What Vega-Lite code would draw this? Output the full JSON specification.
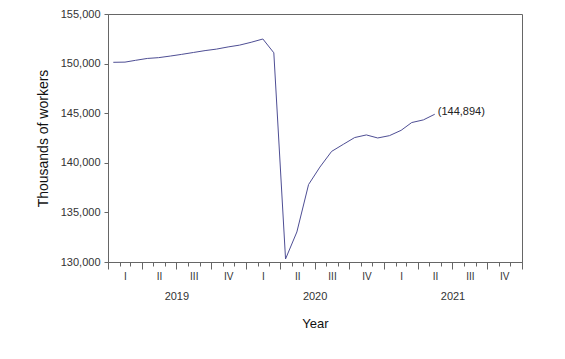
{
  "$schema": "https://vega.github.io/schema/vega-lite/v6.json",
  "width": 414,
  "height": 248,
  "autosize": "none",
  "padding": {"left": 108, "top": 14, "right": 43, "bottom": 97},
  "background": "white",
  "config": {
    "view": {"stroke": "#666666", "strokeWidth": 1},
    "axis": {
      "grid": false,
      "labelFont": "Liberation Sans",
      "titleFont": "Liberation Sans",
      "labelColor": "#333333",
      "titleColor": "#111111",
      "titleFontWeight": "normal",
      "domainColor": "#666666",
      "tickColor": "#666666",
      "labelFlush": false,
      "labelOverlap": false
    }
  },
  "data": {
    "values": [
      {"date": "2019-01-15", "value": 150130},
      {"date": "2019-02-15", "value": 150150},
      {"date": "2019-03-15", "value": 150330},
      {"date": "2019-04-15", "value": 150520},
      {"date": "2019-05-15", "value": 150600},
      {"date": "2019-06-15", "value": 150760},
      {"date": "2019-07-15", "value": 150930},
      {"date": "2019-08-15", "value": 151120},
      {"date": "2019-09-15", "value": 151310},
      {"date": "2019-10-15", "value": 151460},
      {"date": "2019-11-15", "value": 151680},
      {"date": "2019-12-15", "value": 151860},
      {"date": "2020-01-15", "value": 152150},
      {"date": "2020-02-15", "value": 152480},
      {"date": "2020-03-15", "value": 151090},
      {"date": "2020-04-15", "value": 130303},
      {"date": "2020-05-15", "value": 133028},
      {"date": "2020-06-15", "value": 137809},
      {"date": "2020-07-15", "value": 139570},
      {"date": "2020-08-15", "value": 141149},
      {"date": "2020-09-15", "value": 141865},
      {"date": "2020-10-15", "value": 142545},
      {"date": "2020-11-15", "value": 142809},
      {"date": "2020-12-15", "value": 142503},
      {"date": "2021-01-15", "value": 142736},
      {"date": "2021-02-15", "value": 143272},
      {"date": "2021-03-15", "value": 144057},
      {"date": "2021-04-15", "value": 144326},
      {"date": "2021-05-15", "value": 144894}
    ]
  },
  "resolve": {"axis": {"x": "independent"}},
  "layer": [
    {
      "mark": {"type": "line", "color": "#4E4E94", "strokeWidth": 1},
      "encoding": {
        "x": {
          "field": "date", "type": "temporal",
          "scale": {"type": "utc", "domain": [{"year": 2019, "month": 1, "date": 1, "utc": true}, {"year": 2022, "month": 1, "date": 1, "utc": true}]},
          "axis": {"orient": "bottom", "tickCount": {"interval": "month", "step": 1}, "labels": false, "tickSize": 4, "domain": true, "title": null}
        },
        "y": {
          "field": "value", "type": "quantitative",
          "scale": {"domain": [130000, 155000], "nice": false, "zero": false},
          "axis": {
            "values": [130000, 135000, 140000, 145000, 150000, 155000],
            "format": ",d",
            "labelFontSize": 11,
            "tickSize": 4,
            "labelPadding": 4,
            "title": "Thousands of workers",
            "titleFontSize": 14,
            "titlePadding": 10
          }
        }
      }
    },
    {
      "transform": [
        {"filter": "datum.value == 144894"},
        {"calculate": "'(' + format(datum.value, ',') + ')'", "as": "label"}
      ],
      "mark": {"type": "text", "align": "left", "baseline": "middle", "dx": 3, "dy": -2, "fontSize": 11, "font": "Liberation Sans", "color": "#222222"},
      "encoding": {
        "x": {
          "field": "date", "type": "temporal",
          "scale": {"type": "utc", "domain": [{"year": 2019, "month": 1, "date": 1, "utc": true}, {"year": 2022, "month": 1, "date": 1, "utc": true}]},
          "axis": {"orient": "bottom", "tickCount": {"interval": "month", "step": 3}, "labels": false, "tickSize": 7, "domain": false, "title": null}
        },
        "y": {
          "field": "value", "type": "quantitative",
          "scale": {"domain": [130000, 155000], "nice": false, "zero": false},
          "axis": {
            "values": [130000, 135000, 140000, 145000, 150000, 155000],
            "format": ",d",
            "labelFontSize": 11,
            "tickSize": 4,
            "labelPadding": 4,
            "title": "Thousands of workers",
            "titleFontSize": 14,
            "titlePadding": 10
          }
        },
        "text": {"field": "label", "type": "nominal"}
      }
    },
    {
      "mark": {"type": "rule", "opacity": 0},
      "encoding": {
        "x": {
          "field": "date", "type": "temporal",
          "scale": {"type": "utc", "domain": [{"year": 2019, "month": 1, "date": 1, "utc": true}, {"year": 2022, "month": 1, "date": 1, "utc": true}]},
          "axis": {
            "orient": "bottom",
            "values": [
              {"year": 2019, "month": 2, "date": 15, "utc": true},
              {"year": 2019, "month": 5, "date": 16, "utc": true},
              {"year": 2019, "month": 8, "date": 16, "utc": true},
              {"year": 2019, "month": 11, "date": 15, "utc": true},
              {"year": 2020, "month": 2, "date": 15, "utc": true},
              {"year": 2020, "month": 5, "date": 16, "utc": true},
              {"year": 2020, "month": 8, "date": 16, "utc": true},
              {"year": 2020, "month": 11, "date": 15, "utc": true},
              {"year": 2021, "month": 2, "date": 15, "utc": true},
              {"year": 2021, "month": 5, "date": 16, "utc": true},
              {"year": 2021, "month": 8, "date": 16, "utc": true},
              {"year": 2021, "month": 11, "date": 15, "utc": true}
            ],
            "labelExpr": "['I','II','III','IV'][floor(utcmonth(datum.value) / 3)]",
            "ticks": false, "tickSize": 0, "domain": false,
            "labelPadding": 9, "labelFontSize": 10,
            "title": null
          }
        }
      }
    },
    {
      "mark": {"type": "rule", "opacity": 0},
      "encoding": {
        "x": {
          "field": "date", "type": "temporal",
          "scale": {"type": "utc", "domain": [{"year": 2019, "month": 1, "date": 1, "utc": true}, {"year": 2022, "month": 1, "date": 1, "utc": true}]},
          "axis": {
            "orient": "bottom",
            "values": [
              {"year": 2019, "month": 7, "date": 1, "utc": true},
              {"year": 2020, "month": 7, "date": 1, "utc": true},
              {"year": 2021, "month": 7, "date": 1, "utc": true}
            ],
            "format": "%Y",
            "ticks": false, "tickSize": 0, "domain": false,
            "labelPadding": 28, "labelFontSize": 11,
            "title": "Year", "titleFontSize": 13, "titlePadding": 16
          }
        }
      }
    }
  ]
}
